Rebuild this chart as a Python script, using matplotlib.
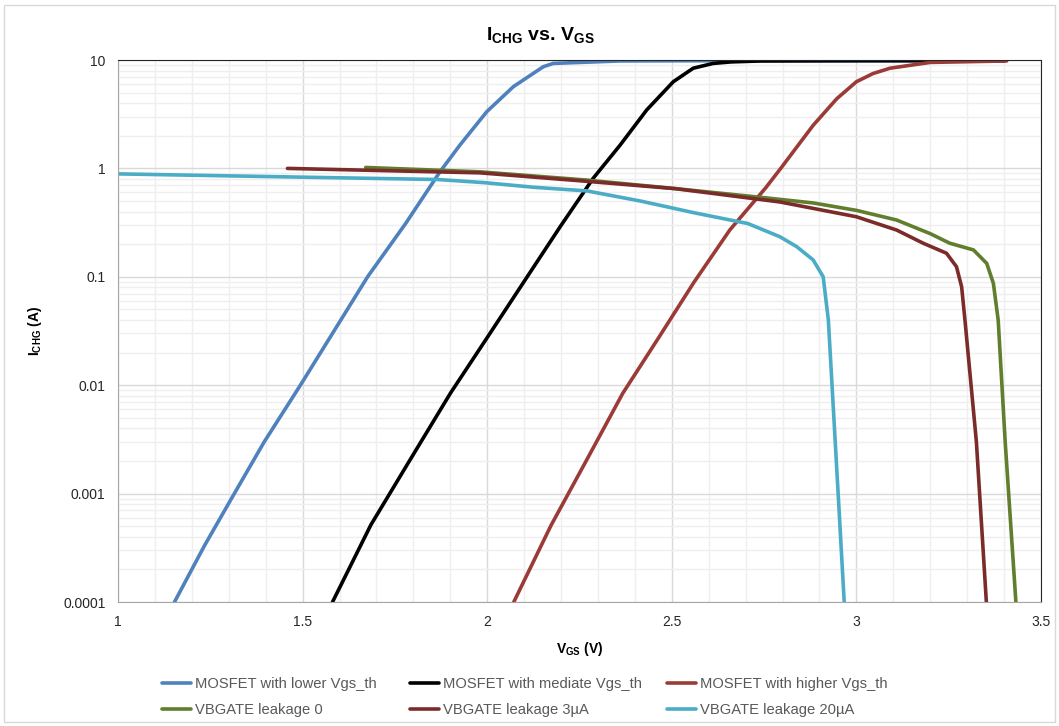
import numpy as np
import matplotlib.pyplot as plt
from matplotlib.patches import Rectangle
from matplotlib.ticker import FixedLocator, FixedFormatter, LogLocator, NullFormatter

plt.rcParams['font.family'] = ['Liberation Sans', 'DejaVu Sans']
plt.rcParams['mathtext.fontset'] = 'custom'
plt.rcParams['mathtext.rm'] = 'Liberation Sans'
plt.rcParams['mathtext.bf'] = 'Liberation Sans:bold'
plt.rcParams['mathtext.default'] = 'bf'

# data
v_lower = [1.153, 1.234, 1.315, 1.396, 1.494, 1.586, 1.676, 1.779, 1.872, 1.926,
           1.999, 2.071, 2.152, 2.179, 2.36, 2.6, 3.0, 3.4]
i_lower = [1e-4, 3.3e-4, 1e-3, 3e-3, 1e-2, 3.2e-2, 0.1, 0.31, 0.93, 1.64,
           3.34, 5.68, 8.67, 9.3, 9.8, 9.85, 9.85, 9.85]

v_mediate = [1.581, 1.685, 1.793, 1.901, 2.0, 2.099, 2.198, 2.287, 2.36, 2.432,
             2.504, 2.558, 2.612, 2.66, 2.739, 3.0, 3.4]
i_mediate = [1e-4, 5.15e-4, 2.1e-3, 8.5e-3, 2.75e-2, 8.95e-2, 0.291, 0.81, 1.64, 3.46,
             6.3, 8.4, 9.3, 9.6, 9.8, 9.85, 9.85]

v_higher = [2.072, 2.173, 2.27, 2.367, 2.464, 2.56, 2.657, 2.754, 2.795, 2.883,
            2.947, 3.0, 3.045, 3.091, 3.2, 3.407]
i_higher = [1e-4, 5.1e-4, 2.06e-3, 8.4e-3, 2.73e-2, 8.9e-2, 0.27, 0.66, 1.0, 2.5,
            4.4, 6.3, 7.5, 8.4, 9.5, 9.8]

v_leak0 = [1.671, 1.98, 2.27, 2.512, 2.754, 2.883, 3.0, 3.109, 3.2, 3.253,
           3.317, 3.353, 3.371, 3.384, 3.403, 3.432]
i_leak0 = [1.02, 0.93, 0.78, 0.65, 0.535, 0.48, 0.41, 0.334, 0.25, 0.204,
           0.177, 0.133, 0.087, 0.04, 0.003, 1e-4]

v_leak3 = [1.459, 1.98, 2.27, 2.51, 2.793, 3.0, 3.109, 3.181, 3.244, 3.271,
           3.285, 3.294, 3.325, 3.352]
i_leak3 = [1.0, 0.91, 0.76, 0.65, 0.49, 0.358, 0.27, 0.204, 0.165, 0.124,
           0.081, 0.04, 0.003, 1e-4]

v_leak20 = [1.0, 1.5, 1.865, 1.99, 2.126, 2.27, 2.415, 2.56, 2.706, 2.793,
            2.838, 2.883, 2.91, 2.924, 2.948, 2.967]
i_leak20 = [0.89, 0.83, 0.79, 0.74, 0.67, 0.62, 0.5, 0.39, 0.31, 0.234,
            0.19, 0.143, 0.1, 0.04, 1.43e-3, 1e-4]

labels = ['MOSFET with lower Vgs_th', 'MOSFET with mediate Vgs_th', 'MOSFET with higher Vgs_th',
          'VBGATE leakage 0', 'VBGATE leakage 3µA', 'VBGATE leakage 20µA']
colors = ['#4f81bd', '#000000', '#9b3b38', '#617d2e', '#7b2c2a', '#4bacc6']
series = [(v_lower, i_lower), (v_mediate, i_mediate), (v_higher, i_higher),
          (v_leak0, i_leak0), (v_leak3, i_leak3), (v_leak20, i_leak20)]

y_ticks = [1e-4, 1e-3, 1e-2, 1e-1, 1, 10]
y_ticklabels = ['0.0001', '0.001', '0.01', '0.1', '1', '10']
x_ticks = [1, 1.5, 2, 2.5, 3, 3.5]
x_ticklabels = ['1', '1.5', '2', '2.5', '3', '3.5']

fig = plt.figure(figsize=(10.59, 7.26), dpi=100)
ax = fig.add_axes([118/1059, 1 - 602/726, 923/1059, 542/726])

handles = []
for (v, i), c, lab in zip(series, colors, labels):
    h, = ax.plot(v, i, color=c, lw=2.6, label=lab, solid_capstyle='round', solid_joinstyle='round')
    handles.append(h)

ax.set_yscale('log')
ax.set_xlim(1, 3.5)
ax.set_ylim(1e-4, 10)

ax.yaxis.set_major_locator(FixedLocator(y_ticks))
ax.yaxis.set_major_formatter(FixedFormatter(y_ticklabels))
ax.yaxis.set_minor_locator(LogLocator(base=10, subs=np.arange(2, 10), numticks=20))
ax.yaxis.set_minor_formatter(NullFormatter())
ax.xaxis.set_major_locator(FixedLocator(x_ticks))
ax.xaxis.set_major_formatter(FixedFormatter(x_ticklabels))
ax.xaxis.set_minor_locator(FixedLocator(np.arange(1.1, 3.5, 0.1)))

ax.grid(which='major', color='#d9d9d9', lw=1.0)
ax.grid(which='minor', color='#efefef', lw=1.0)
ax.set_axisbelow(True)
ax.tick_params(which='both', length=0, labelsize=10, colors='#262626', pad=9)

for s in ['left', 'bottom']:
    ax.spines[s].set_color('#a6a6a6')
for s in ['top', 'right']:
    ax.spines[s].set_color('#262626')

ax.set_xlabel(r'V$_{GS}$ (V)', fontsize=10, fontweight='bold', labelpad=8)
ax.set_ylabel(r'I$_{CHG}$ (A)', fontsize=10, fontweight='bold', labelpad=14)
fig.text(0.51, 0.952, r'I$_{CHG}$ vs. V$_{GS}$', ha='center', va='center',
         fontsize=14, fontweight='bold')

# three legend columns, placed like the reference
col_x = [162, 410, 667]
for col in range(3):
    pair = [col, col + 3]
    leg = fig.legend([handles[k] for k in pair], [labels[k] for k in pair],
                     loc='center left', bbox_to_anchor=(col_x[col] / 1059, 1 - 697 / 726),
                     frameon=False, fontsize=10.6, handlelength=2.0, handletextpad=0.27,
                     labelspacing=0.86, borderpad=0, borderaxespad=0)
    for t in leg.get_texts():
        t.set_color('#595959')

fig.patches.append(Rectangle((0.004, 0.005), 0.992, 0.988, transform=fig.transFigure,
                             fill=False, edgecolor='#d9d9d9', lw=1))

fig.savefig('out.png', dpi=100)
